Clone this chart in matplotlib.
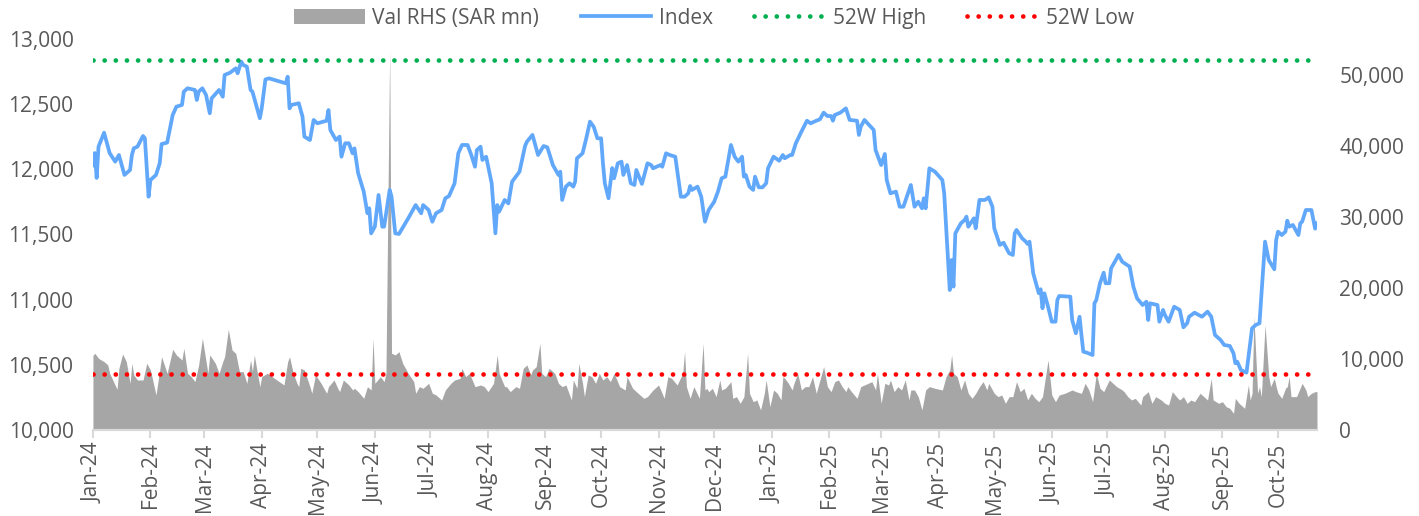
import pandas as pd
import matplotlib.pyplot as plt
import matplotlib.dates as mdates
from matplotlib.ticker import FuncFormatter, MultipleLocator


OUTPUT_FILE = "out.png"

# index level (LHS)
idx_dates = [
    "2024-01-01", "2024-01-02", "2024-01-03", "2024-01-04", "2024-01-07", "2024-01-10", "2024-01-13",
    "2024-01-15", "2024-01-16", "2024-01-18", "2024-01-21", "2024-01-22", "2024-01-23", "2024-01-25",
    "2024-01-28", "2024-01-29", "2024-01-31", "2024-02-01", "2024-02-04", "2024-02-06", "2024-02-07",
    "2024-02-10", "2024-02-13", "2024-02-15", "2024-02-18", "2024-02-19", "2024-02-21", "2024-02-25",
    "2024-02-26", "2024-02-27", "2024-02-29", "2024-03-02", "2024-03-04", "2024-03-05", "2024-03-09",
    "2024-03-11", "2024-03-12", "2024-03-15", "2024-03-18", "2024-03-19", "2024-03-21", "2024-03-22",
    "2024-03-24", "2024-03-26", "2024-03-27", "2024-03-31", "2024-04-01", "2024-04-03", "2024-04-05",
    "2024-04-14", "2024-04-15", "2024-04-16", "2024-04-17", "2024-04-21", "2024-04-23", "2024-04-24",
    "2024-04-27", "2024-04-29", "2024-05-01", "2024-05-06", "2024-05-07", "2024-05-08", "2024-05-11",
    "2024-05-13", "2024-05-14", "2024-05-16", "2024-05-18", "2024-05-20", "2024-05-21", "2024-05-23",
    "2024-05-26", "2024-05-28", "2024-05-29", "2024-05-30", "2024-06-01", "2024-06-03", "2024-06-05",
    "2024-06-06", "2024-06-09", "2024-06-10", "2024-06-12", "2024-06-14", "2024-06-19", "2024-06-23",
    "2024-06-26", "2024-06-27", "2024-06-30", "2024-07-02", "2024-07-04", "2024-07-07", "2024-07-09",
    "2024-07-11", "2024-07-14", "2024-07-16", "2024-07-18", "2024-07-21", "2024-07-23", "2024-07-25",
    "2024-07-26", "2024-07-28", "2024-07-29", "2024-07-31", "2024-08-03", "2024-08-05", "2024-08-06",
    "2024-08-07", "2024-08-10", "2024-08-12", "2024-08-14", "2024-08-18", "2024-08-21", "2024-08-22",
    "2024-08-25", "2024-08-28", "2024-08-31", "2024-09-02", "2024-09-05", "2024-09-08", "2024-09-09",
    "2024-09-10", "2024-09-12", "2024-09-14", "2024-09-16", "2024-09-17", "2024-09-18", "2024-09-21",
    "2024-09-23", "2024-09-25", "2024-09-27", "2024-09-29", "2024-10-01", "2024-10-02", "2024-10-03",
    "2024-10-05", "2024-10-07", "2024-10-08", "2024-10-10", "2024-10-12", "2024-10-13", "2024-10-15",
    "2024-10-17", "2024-10-19", "2024-10-20", "2024-10-23", "2024-10-26", "2024-10-28", "2024-10-29",
    "2024-11-02", "2024-11-03", "2024-11-05", "2024-11-07", "2024-11-10", "2024-11-13", "2024-11-15",
    "2024-11-17", "2024-11-18", "2024-11-19", "2024-11-22", "2024-11-24", "2024-11-26", "2024-11-28",
    "2024-12-01", "2024-12-03", "2024-12-05", "2024-12-07", "2024-12-10", "2024-12-12", "2024-12-14",
    "2024-12-16", "2024-12-17", "2024-12-18", "2024-12-20", "2024-12-22", "2024-12-23", "2024-12-25",
    "2024-12-27", "2024-12-29", "2024-12-30", "2025-01-02", "2025-01-05", "2025-01-07", "2025-01-08",
    "2025-01-11", "2025-01-12", "2025-01-14", "2025-01-17", "2025-01-20", "2025-01-22", "2025-01-25",
    "2025-01-27", "2025-01-29", "2025-01-31", "2025-02-02", "2025-02-03", "2025-02-04", "2025-02-07",
    "2025-02-10", "2025-02-12", "2025-02-16", "2025-02-17", "2025-02-18", "2025-02-20", "2025-02-25",
    "2025-02-26", "2025-03-01", "2025-03-03", "2025-03-04", "2025-03-06", "2025-03-09", "2025-03-11",
    "2025-03-13", "2025-03-17", "2025-03-19", "2025-03-21", "2025-03-23", "2025-03-24", "2025-03-25",
    "2025-03-27", "2025-03-30", "2025-04-03", "2025-04-04", "2025-04-07", "2025-04-08", "2025-04-09",
    "2025-04-10", "2025-04-13", "2025-04-15", "2025-04-16", "2025-04-17", "2025-04-20", "2025-04-21",
    "2025-04-23", "2025-04-26", "2025-04-28", "2025-04-30", "2025-05-01", "2025-05-04", "2025-05-06",
    "2025-05-09", "2025-05-11", "2025-05-12", "2025-05-13", "2025-05-16", "2025-05-18", "2025-05-19",
    "2025-05-20", "2025-05-22", "2025-05-25", "2025-05-26", "2025-05-27", "2025-05-28", "2025-05-30",
    "2025-06-01", "2025-06-03", "2025-06-04", "2025-06-05", "2025-06-11", "2025-06-12", "2025-06-14",
    "2025-06-16", "2025-06-17", "2025-06-18", "2025-06-20", "2025-06-23", "2025-06-24", "2025-06-25",
    "2025-06-27", "2025-06-29", "2025-06-30", "2025-07-02", "2025-07-03", "2025-07-05", "2025-07-07",
    "2025-07-09", "2025-07-13", "2025-07-15", "2025-07-17", "2025-07-20", "2025-07-22", "2025-07-23",
    "2025-07-24", "2025-07-28", "2025-07-29", "2025-07-31", "2025-08-01", "2025-08-03", "2025-08-06",
    "2025-08-09", "2025-08-11", "2025-08-13", "2025-08-14", "2025-08-17", "2025-08-21", "2025-08-24",
    "2025-08-26", "2025-08-28", "2025-08-31", "2025-09-02", "2025-09-05", "2025-09-07", "2025-09-08",
    "2025-09-09", "2025-09-11", "2025-09-14", "2025-09-17", "2025-09-19", "2025-09-21", "2025-09-24",
    "2025-09-26", "2025-09-29", "2025-09-30", "2025-10-01", "2025-10-03", "2025-10-05", "2025-10-06",
    "2025-10-07", "2025-10-09", "2025-10-12", "2025-10-13", "2025-10-14", "2025-10-16", "2025-10-19",
    "2025-10-21", "2025-10-22",
]
idx_vals = [
    12030, 12125, 11934, 12174, 12281, 12125, 12059,
    12110, 12059, 11957, 11995, 12110, 12161, 12174,
    12256, 12238, 11790, 11918, 11957, 12046, 12194,
    12205, 12417, 12481, 12494, 12596, 12622, 12609,
    12532, 12596, 12622, 12570, 12430, 12545, 12609,
    12557, 12724, 12742, 12775, 12737, 12826, 12801,
    12788, 12609, 12596, 12392, 12468, 12690, 12698,
    12660, 12711, 12468, 12494, 12507, 12404, 12251,
    12225, 12379, 12353, 12373, 12455, 12302, 12225,
    12251, 12097, 12200, 12200, 12123, 12161, 11970,
    11829, 11663, 11701, 11509, 11560, 11803, 11560,
    11560, 11842, 11790, 11509, 11504, 11624, 11726,
    11663, 11726, 11688, 11598, 11663, 11688, 11778,
    11795, 11893, 12123, 12187, 12187, 12110, 12020,
    12148, 12174, 12072, 12097, 11893, 11509, 11726,
    11675, 11765, 11739, 11905, 11982, 12179, 12212,
    12264, 12110, 12179, 12169, 12033, 11957, 11982,
    11765, 11867, 11893, 11867, 11905, 12085, 12123,
    12238, 12366, 12327, 12238, 12238, 12046, 11893,
    11778, 12010, 11931, 12046, 12059, 11957, 12033,
    11893, 11880, 11995, 11888, 12046, 12033, 12008,
    12033, 12020, 12123, 12110, 12097, 11790, 11790,
    11816, 11872, 11842, 11867, 11790, 11598, 11688,
    11752, 11829, 11931, 11944, 12187, 12097, 12059,
    12097, 11944, 11957, 11867, 11842, 11944, 11862,
    11862, 11893, 12008, 12097, 12066, 12110, 12085,
    12110, 12110, 12200, 12289, 12373, 12353, 12373,
    12384, 12435, 12409, 12409, 12373, 12417, 12435,
    12468, 12379, 12373, 12264, 12327, 12379, 12302,
    12148, 12033, 12118, 11918, 11816, 11829, 11713,
    11713, 11880, 11713, 11752, 11701, 11778, 11701,
    12008, 11982, 11918, 11816, 11074, 11304, 11100,
    11509, 11586, 11611, 11637, 11560, 11624, 11547,
    11765, 11765, 11785, 11713, 11547, 11420, 11437,
    11356, 11343, 11509, 11535, 11471, 11445, 11427,
    11445, 11202, 11049, 11080, 10934, 11049, 10946,
    10831, 10831, 10997, 11028, 11023, 10844, 10742,
    10869, 10729, 10601, 10593, 10575, 10972, 10997,
    11126, 11207, 11126, 11126, 11241, 11291, 11343,
    11291, 11253, 11100, 11010, 10959, 10984, 10844,
    10972, 10959, 10831, 10921, 10882, 10831, 10946,
    10921, 10788, 10819, 10869, 10900, 10869, 10908,
    10869, 10729, 10691, 10652, 10645, 10588, 10512,
    10524, 10460, 10440, 10780, 10806, 10819, 11445,
    11304, 11233, 11458, 11522, 11496, 11522, 11606,
    11560, 11573, 11496, 11586, 11598, 11688, 11688,
    11545, 11585,
]

# traded value, SAR mn (RHS)
val_dates = [
    "2024-01-01", "2024-01-02", "2024-01-04", "2024-01-07", "2024-01-09", "2024-01-10", "2024-01-14",
    "2024-01-15", "2024-01-17", "2024-01-19", "2024-01-21", "2024-01-22", "2024-01-23", "2024-01-25",
    "2024-01-28", "2024-01-30", "2024-02-01", "2024-02-04", "2024-02-06", "2024-02-07", "2024-02-10",
    "2024-02-13", "2024-02-15", "2024-02-18", "2024-02-19", "2024-02-21", "2024-02-23", "2024-02-25",
    "2024-02-27", "2024-02-29", "2024-03-03", "2024-03-04", "2024-03-07", "2024-03-09", "2024-03-11",
    "2024-03-12", "2024-03-14", "2024-03-16", "2024-03-18", "2024-03-20", "2024-03-22", "2024-03-24",
    "2024-03-26", "2024-03-27", "2024-03-28", "2024-03-30", "2024-03-31", "2024-04-01", "2024-04-04",
    "2024-04-13", "2024-04-15", "2024-04-16", "2024-04-18", "2024-04-20", "2024-04-21", "2024-04-22",
    "2024-04-24", "2024-04-27", "2024-04-28", "2024-04-30", "2024-05-03", "2024-05-06", "2024-05-07",
    "2024-05-10", "2024-05-12", "2024-05-13", "2024-05-15", "2024-05-18", "2024-05-20", "2024-05-21",
    "2024-05-23", "2024-05-26", "2024-05-28", "2024-05-30", "2024-05-31", "2024-06-01", "2024-06-04",
    "2024-06-06", "2024-06-07", "2024-06-09", "2024-06-10", "2024-06-12", "2024-06-14", "2024-06-16",
    "2024-06-19", "2024-06-22", "2024-06-23", "2024-06-25", "2024-06-27", "2024-06-30", "2024-07-02",
    "2024-07-04", "2024-07-07", "2024-07-09", "2024-07-12", "2024-07-14", "2024-07-17", "2024-07-18",
    "2024-07-20", "2024-07-22", "2024-07-25", "2024-07-28", "2024-07-30", "2024-08-01", "2024-08-04",
    "2024-08-06", "2024-08-07", "2024-08-10", "2024-08-11", "2024-08-13", "2024-08-16", "2024-08-18",
    "2024-08-20", "2024-08-22", "2024-08-24", "2024-08-25", "2024-08-27", "2024-08-29", "2024-08-30",
    "2024-09-01", "2024-09-03", "2024-09-05", "2024-09-06", "2024-09-08", "2024-09-10", "2024-09-12",
    "2024-09-15", "2024-09-16", "2024-09-18", "2024-09-19", "2024-09-21", "2024-09-22", "2024-09-24",
    "2024-09-26", "2024-09-28", "2024-09-30", "2024-10-02", "2024-10-04", "2024-10-06", "2024-10-08",
    "2024-10-11", "2024-10-14", "2024-10-15", "2024-10-18", "2024-10-21", "2024-10-24", "2024-10-26",
    "2024-10-29", "2024-11-01", "2024-11-04", "2024-11-06", "2024-11-08", "2024-11-11", "2024-11-14",
    "2024-11-15", "2024-11-16", "2024-11-18", "2024-11-20", "2024-11-23", "2024-11-25", "2024-11-26",
    "2024-11-27", "2024-11-28", "2024-11-30", "2024-12-02", "2024-12-04", "2024-12-05", "2024-12-07",
    "2024-12-10", "2024-12-11", "2024-12-13", "2024-12-15", "2024-12-17", "2024-12-19", "2024-12-20",
    "2024-12-22", "2024-12-24", "2024-12-26", "2024-12-28", "2024-12-29", "2024-12-31", "2025-01-02",
    "2025-01-04", "2025-01-06", "2025-01-07", "2025-01-08", "2025-01-10", "2025-01-12", "2025-01-13",
    "2025-01-15", "2025-01-17", "2025-01-19", "2025-01-21", "2025-01-23", "2025-01-25", "2025-01-27",
    "2025-01-29", "2025-01-31", "2025-02-02", "2025-02-04", "2025-02-06", "2025-02-08", "2025-02-10",
    "2025-02-11", "2025-02-13", "2025-02-16", "2025-02-18", "2025-02-20", "2025-02-24", "2025-02-26",
    "2025-02-27", "2025-03-01", "2025-03-03", "2025-03-05", "2025-03-06", "2025-03-08", "2025-03-10",
    "2025-03-12", "2025-03-14", "2025-03-16", "2025-03-17", "2025-03-19", "2025-03-21", "2025-03-23",
    "2025-03-25", "2025-03-27", "2025-03-30", "2025-04-03", "2025-04-05", "2025-04-07", "2025-04-08",
    "2025-04-09", "2025-04-11", "2025-04-13", "2025-04-15", "2025-04-17", "2025-04-19", "2025-04-21",
    "2025-04-23", "2025-04-25", "2025-04-27", "2025-04-28", "2025-05-01", "2025-05-03", "2025-05-05",
    "2025-05-07", "2025-05-09", "2025-05-11", "2025-05-13", "2025-05-15", "2025-05-17", "2025-05-19",
    "2025-05-21", "2025-05-23", "2025-05-25", "2025-05-27", "2025-05-30", "2025-06-01", "2025-06-03",
    "2025-06-05", "2025-06-08", "2025-06-12", "2025-06-14", "2025-06-17", "2025-06-19", "2025-06-21",
    "2025-06-23", "2025-06-25", "2025-06-27", "2025-06-29", "2025-07-02", "2025-07-04", "2025-07-06",
    "2025-07-09", "2025-07-10", "2025-07-12", "2025-07-14", "2025-07-16", "2025-07-19", "2025-07-20",
    "2025-07-23", "2025-07-25", "2025-07-27", "2025-07-30", "2025-08-01", "2025-08-03", "2025-08-05",
    "2025-08-08", "2025-08-09", "2025-08-11", "2025-08-13", "2025-08-15", "2025-08-17", "2025-08-20",
    "2025-08-23", "2025-08-24", "2025-08-26", "2025-08-27", "2025-08-30", "2025-09-01", "2025-09-03",
    "2025-09-05", "2025-09-07", "2025-09-08", "2025-09-10", "2025-09-13", "2025-09-15", "2025-09-16",
    "2025-09-17", "2025-09-18", "2025-09-20", "2025-09-21", "2025-09-22", "2025-09-24", "2025-09-26",
    "2025-09-27", "2025-09-29", "2025-09-30", "2025-10-01", "2025-10-03", "2025-10-05", "2025-10-06",
    "2025-10-07", "2025-10-08", "2025-10-11", "2025-10-14", "2025-10-16", "2025-10-17", "2025-10-19",
    "2025-10-21", "2025-10-22",
]
val_vals = [
    10500, 10787, 10083, 9613, 9146, 7973, 5722,
    8676, 10693, 9613, 6567, 9380, 7739, 7035,
    7035, 9380, 8440, 4925, 8440, 10317, 7973,
    11348, 10553, 9849, 11489, 7973, 7504, 6801,
    9146, 12898, 7973, 10553, 9380, 7973, 9613,
    10317, 14164, 11256, 10787, 8207, 8207, 6567,
    9849, 8207, 10553, 7504, 6097, 7504, 7973,
    6332, 9613, 10317, 7973, 6567, 6097, 8676,
    8440, 6097, 5159, 7739, 6567, 5159, 6097,
    7035, 5863, 5393, 7035, 6332, 5628, 5863,
    5393, 4455, 6097, 5628, 12898, 6567, 7504,
    6801, 7973, 53466, 10787, 10553, 11020, 9380,
    7973, 6801, 5159, 6097, 5863, 6567, 5159,
    4925, 4221, 5628, 6567, 7035, 7269, 8676,
    7504, 7973, 6097, 6332, 6097, 5393, 6567,
    10553, 7973, 6097, 6097, 5393, 6097, 5863,
    8676, 9146, 7739, 8440, 8910, 12193, 7973,
    7504, 8676, 8207, 7973, 6567, 6097, 6332,
    4221, 7035, 5863, 9380, 6567, 4690, 7739,
    7504, 6567, 7973, 7035, 7504, 6801, 7973,
    6097, 5628, 7504, 5863, 5159, 4455, 4690,
    5628, 6332, 4455, 7504, 7269, 6332, 7973,
    11020, 6097, 4455, 6097, 4455, 12193, 5628,
    5863, 5393, 5863, 4690, 7035, 5628, 5863,
    6801, 4455, 4690, 3752, 4690, 10787, 5159,
    3986, 4221, 2814, 5159, 7035, 3283, 5628,
    5159, 4221, 7504, 7269, 6567, 5628, 6567,
    7973, 5628, 6097, 6097, 7504, 5159, 7035,
    8910, 6097, 5393, 6801, 7035, 6097, 5393,
    6097, 5393, 4455, 6097, 6332, 6801, 5628,
    7973, 3752, 6567, 6332, 7035, 5393, 6097,
    5628, 7035, 4221, 5628, 5628, 4690, 2814,
    5628, 6097, 5863, 5628, 7504, 8440, 10553,
    7973, 7504, 5628, 7035, 5159, 4455, 5159,
    6097, 6801, 5628, 6567, 5159, 4690, 4925,
    3752, 4690, 4690, 6801, 5393, 5863, 4221,
    5159, 4455, 3986, 4690, 9849, 4925, 3986,
    4925, 5159, 5628, 5393, 5159, 6567, 5628,
    3986, 7973, 5863, 5393, 7035, 6567, 6097,
    5628, 5393, 4690, 4221, 4455, 3518, 4690,
    5393, 3752, 4690, 4221, 3752, 3518, 5393,
    4455, 4221, 4690, 3752, 4221, 3986, 5159,
    4455, 4221, 7269, 4221, 3752, 3986, 3283,
    3049, 2345, 4455, 3752, 3049, 6332, 4221,
    5159, 15947, 5159, 6097, 4690, 14774, 7504,
    6097, 7269, 6097, 5159, 4455, 5863, 6097,
    7504, 4690, 4690, 6567, 5628, 4690, 5159,
    5393, 5393,
]

high_52w = 12840
low_52w = 10430

TEXT_GREY = "#595959"
AXIS_GREY = "#D9D9D9"


def thousands(x, pos):
    return f"{x:,.0f}"


def main():
    idx = pd.Series(idx_vals, index=pd.to_datetime(idx_dates))
    val = pd.Series(val_vals, index=pd.to_datetime(val_dates))

    plt.rcParams["font.family"] = ["Open Sans", "DejaVu Sans"]

    fig = plt.figure(figsize=(14.19, 5.16), dpi=100)
    ax = fig.add_axes([0.0655, 0.1667, 0.8626, 0.7577])
    ax2 = ax.twinx()

    # value area on the RHS axis, kept behind the index line
    area = ax2.fill_between(val.index, val.values, 0, color="#A6A6A6", lw=0,
                            label="Val RHS (SAR mn)")
    ax.set_zorder(ax2.get_zorder() + 1)
    ax.patch.set_visible(False)

    line, = ax.plot(idx.index, idx.values, color="#62A8FA", lw=2.7,
                    solid_joinstyle="round", label="Index")
    hi = ax.axhline(high_52w, color="#00B050", lw=3.4, ls=(0, (0.01, 2.35)),
                    dash_capstyle="round", label="52W High")
    lo = ax.axhline(low_52w, color="#FF0000", lw=3.4, ls=(0, (0.01, 2.35)),
                    dash_capstyle="round", label="52W Low")

    ax.set_xlim(pd.Timestamp("2024-01-01"), pd.Timestamp("2025-10-22"))
    ax.set_ylim(10000, 13000)
    ax2.set_ylim(0, 55000)

    ax.yaxis.set_major_locator(MultipleLocator(500))
    ax.yaxis.set_major_formatter(FuncFormatter(thousands))
    ax2.yaxis.set_major_locator(MultipleLocator(10000))
    ax2.yaxis.set_major_formatter(FuncFormatter(thousands))

    ax.xaxis.set_major_locator(mdates.MonthLocator())
    ax.xaxis.set_major_formatter(mdates.DateFormatter("%b-%y"))
    for lbl in ax.get_xticklabels():
        lbl.set_rotation(90)

    ax.tick_params(axis="y", length=0, pad=14, labelsize=15, labelcolor=TEXT_GREY)
    ax2.tick_params(axis="y", length=0, pad=16, labelsize=15, labelcolor=TEXT_GREY)
    ax.tick_params(axis="x", length=6, width=1.5, color=AXIS_GREY, pad=3,
                   labelsize=15, labelcolor=TEXT_GREY)

    for a in (ax, ax2):
        for side in ("top", "left", "right"):
            a.spines[side].set_visible(False)
        a.spines["bottom"].set_color(AXIS_GREY)
        a.spines["bottom"].set_linewidth(1.5)

    fig.legend(
        [area, line, hi, lo],
        ["Val RHS (SAR mn)", "Index", "52W High", "52W Low"],
        loc="center",
        bbox_to_anchor=(0.503, 0.965),
        ncol=4,
        frameon=False,
        fontsize=15,
        labelcolor=TEXT_GREY,
        handlelength=3.4,
        handletextpad=0.35,
        columnspacing=2.0,
    )

    fig.savefig(OUTPUT_FILE, dpi=100)
    plt.close(fig)


if __name__ == "__main__":
    main()
